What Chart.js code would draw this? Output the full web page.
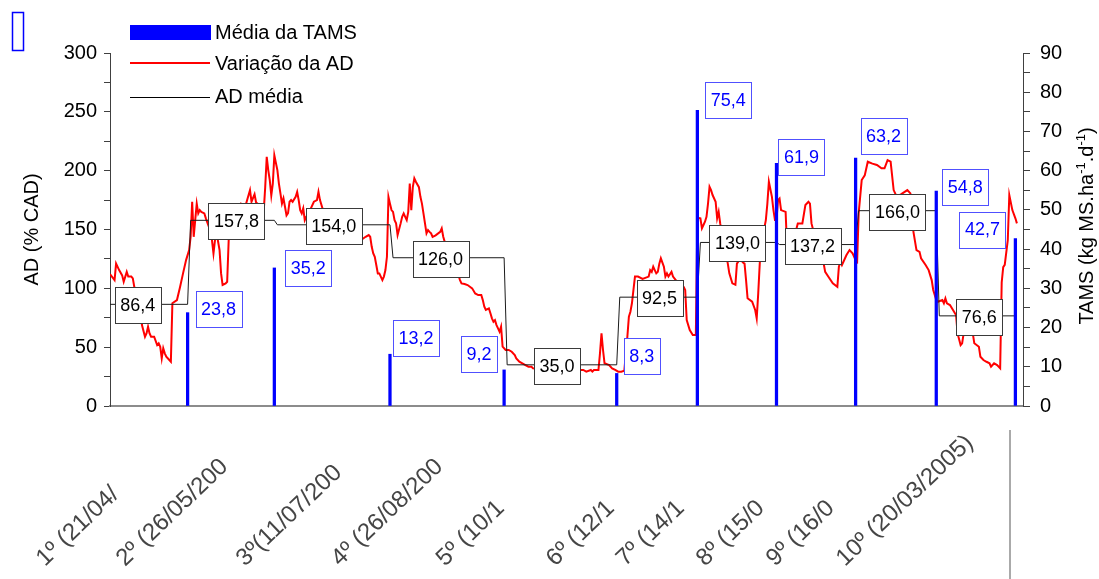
<!DOCTYPE html>
<html lang="pt">
<head>
<meta charset="UTF-8">
<title>Variação da AD e TAMS</title>
<script src="https://cdn.jsdelivr.net/npm/chart.js"></script>
<style>
    body { margin: 0; background: #fff; overflow: hidden; }
    canvas { display: block; }
</style>
</head>
<body>
<canvas id="grafico" width="1099" height="579"></canvas>
<script>
// Fim de cada período de pastejo (nº da leitura)
const fimPeriodo = [51, 108, 184, 259, 333, 386, 438, 490, 543, 595];
// Taxa de acúmulo de matéria seca média (kg MS/ha/d)
const tamsMedia = [23.8, 35.2, 13.2, 9.2, 8.3, 75.4, 61.9, 63.2, 54.8, 42.7];
// Altura do dossel média por período (% CAD)
const adMedia = [86.4, 157.8, 154.0, 126.0, 35.0, 92.5, 139.0, 137.2, 166.0, 76.6];
// Rótulos dos períodos (cortados como na figura)
const rotulosPeriodo = ['1º (21/04/', '2º (26/05/200', '3º(11/07/200', '4º (26/08/200', '5º (10/1',
    '6º (12/1', '7º (14/1', '8º (15/0', '9º (16/0', '10º (20/03/2005)'];

// Variação diária da AD
const leituraAD = [0, 3, 4, 6, 8, 9, 11, 12, 14, 15, 16, 18, 19, 20, 21, 23, 24, 25, 26, 27, 29, 31, 32, 33, 34, 35, 36, 37, 39, 40,
    41, 44, 46, 48, 50, 52, 53, 54, 55, 56, 57, 58, 59, 60, 62, 63, 65, 66, 67, 68, 69, 70, 71, 72, 73, 74, 76, 77, 78, 80,
    83, 86, 89, 92, 93, 95, 96, 99, 101, 102, 103, 104, 105, 106, 107, 108, 110, 111, 112, 113, 114, 115, 116, 117, 118, 119, 120, 122, 123, 124,
    125, 126, 127, 128, 129, 130, 132, 134, 136, 137, 138, 141, 145, 148, 151, 154, 158, 161, 163, 164, 165, 168, 170, 171, 172, 173, 174, 175, 176, 177,
    179, 180, 181, 182, 183, 184, 185, 186, 187, 188, 189, 191, 192, 193, 194, 195, 196, 197, 198, 199, 200, 201, 203, 204, 205, 206, 207, 208, 209, 210,
    211, 212, 214, 217, 218, 219, 221, 224, 227, 229, 230, 231, 233, 235, 238, 240, 242, 244, 245, 246, 247, 249, 250, 251, 252, 253, 254, 255, 256, 257,
    258, 260, 262, 264, 266, 267, 269, 271, 273, 275, 277, 278, 283, 288, 293, 299, 304, 309, 311, 313, 316, 317, 318, 320, 321, 322, 323, 324, 325, 328,
    330, 332, 334, 336, 338, 340, 341, 342, 343, 344, 345, 347, 350, 354, 355, 356, 357, 358, 359, 360, 361, 362, 364, 365, 366, 367, 369, 370, 373, 377,
    378, 379, 381, 383, 385, 386, 388, 389, 390, 391, 392, 393, 394, 395, 396, 398, 399, 400, 401, 403, 405, 406, 407, 409, 411, 412, 414, 416, 417, 418,
    419, 422, 424, 425, 426, 427, 428, 431, 432, 433, 435, 436, 437, 438, 439, 440, 441, 444, 445, 446, 449, 452, 455, 457, 459, 460, 461, 465, 469, 470,
    472, 475, 478, 479, 480, 481, 482, 484, 486, 488, 490, 491, 492, 494, 496, 498, 501, 504, 507, 509, 511, 513, 515, 517, 520, 524, 526, 528, 530, 532,
    533, 536, 538, 540, 541, 543, 544, 547, 548, 549, 550, 552, 554, 556, 557, 559, 560, 561, 564, 567, 568, 571, 572, 574, 576, 578, 579, 581, 583, 585,
    586, 587, 588, 590, 591, 593, 595, 596];
const valorAD = [112, 107, 121, 115.5, 111, 105.6, 114, 110, 110, 108.5, 101, 98.6, 90, 78, 68.8, 58.9, 61.7, 67.4, 61.7, 58.9, 58.9, 51.8, 53.3, 50.4, 40.5, 49, 44.8, 41.9, 39.1, 37.6,
    87.3, 90, 101, 112.7, 124, 132.5, 143.8, 173.6, 143.8, 158, 172, 163.7, 166.5, 165, 163.7, 159.5, 152.3, 155.2, 141, 129.7, 141, 149.5, 140, 132.5, 112.7, 102.8, 104.2, 105.6, 141, 158,
    165, 172, 170, 183.5, 173.6, 180, 173, 170, 165, 186, 211.8, 200.5, 192, 179, 189, 213, 200.5, 189, 180.7, 172, 176.4, 169.3, 162, 164, 173.6, 175, 173.6, 177.8, 182, 175,
    166.5, 163.7, 168, 158, 160.8, 162.3, 168, 173.6, 175, 182, 175, 162, 155, 160, 152, 148, 150, 146, 141, 143.8, 141, 143.8, 145.3, 143.8, 135.3, 129.7, 126.8, 119.8, 112.7, 112.7,
    107, 110, 115.5, 126.8, 177.8, 172, 166.5, 165, 158, 155.2, 145.3, 155.2, 160.8, 163.7, 160.8, 158, 165, 189, 166.5, 186, 193.4, 190.6, 186, 177.8, 172, 163.7, 155.2, 146.7, 149.5, 148,
    146.7, 143.8, 145, 148, 151, 143.8, 135, 125, 116, 111.3, 107, 104.2, 103.7, 102.8, 100, 95.7, 94.3, 94.3, 90, 84.4, 81.6, 83, 78.8, 74.5, 71.6, 73, 68.8, 66, 63.1, 67.4,
    50.4, 47.6, 47.6, 46.1, 43.3, 40.5, 37.6, 36.3, 34.8, 33.4, 33.4, 32, 31.5, 31, 30, 31, 30.5, 30.6, 30.6, 29.2, 30.6, 29.2, 30.6, 30.6, 30.6, 44.8, 61.7, 47.6, 36.3, 34.8,
    32, 30.6, 29.2, 29.2, 30, 58.9, 75.9, 80.1, 87.3, 98.6, 110, 110, 108, 110, 115.5, 114, 118.4, 115.5, 112.7, 114, 121, 125.5, 118.4, 110, 112.7, 110, 114, 110, 105, 101.3,
    98.6, 73, 64.6, 60.3, 60.3, 160, 159.5, 151, 153.8, 156.6, 160.8, 172, 186.3, 183.5, 179.3, 173.6, 159.5, 165, 155.2, 140, 128, 121, 112.7, 104.2, 103, 121, 125, 122, 121, 107,
    91.5, 88.6, 81.6, 74.5, 95.7, 121, 138, 158, 172, 190.6, 177.8, 166.5, 158, 158, 175, 176.4, 166.5, 165, 132.5, 129.7, 140, 155.2, 155.2, 170.8, 173.6, 172, 155.2, 135, 121, 114,
    110, 104.2, 101.3, 118.4, 122.6, 119.8, 122.6, 128.3, 132.5, 129.7, 124, 122.6, 163.7, 192, 196, 207.6, 206, 204.8, 202, 202, 209, 207.6, 183.5, 178, 180, 183.5, 180.7, 148, 132.5, 131,
    125.5, 119.8, 115.5, 107, 98.6, 90, 88.6, 90, 87.3, 91.5, 87.3, 85.8, 81.6, 77.3, 61.7, 51.8, 53.3, 61.7, 62, 61.7, 53.3, 50.4, 41.9, 39.1, 37.6, 36.3, 33.4, 36.3, 34.8, 32,
    105, 118, 120, 141, 179.3, 166.5, 159.5, 155.2];

const fonte = 'Liberation Sans, Arial, sans-serif';
const corTams = '#0000ff';

// degraus da AD média: cada período começa logo após o fim do anterior
const degraus = [];
adMedia.forEach(function (v, k) {
    const ini = k === 0 ? 0 : fimPeriodo[k - 1] + 2;
    degraus.push({ x: ini, y: v }, { x: fimPeriodo[k], y: v });
});

// deslocamentos manuais das caixas (px), como arrumadas na figura original
const desvioCaixaAD = [-11, 4, 0, -8, -5, 1, -1, -5, 0, 2];
const desvioCaixaTams = [[31, -4], [34, 0], [26, -16], [-25, -16], [25, -17], [31, -10], [25, -6], [28, -22], [29, -4], [-33, -9]];
const inicioRotuloX = [45, 125, 245, 340, 445, 555, 625, 705, 775, 845];

function virgula(v) {
    return v.toFixed(1).replace('.', ',');
}

function caixa(ctx, cx, cy, txt, corTexto, corBorda) {
    const w = Math.round(ctx.measureText(txt).width + 11);
    const h = 36;
    const l = Math.round(cx - w / 2) + 0.5;
    const t = Math.round(cy - h / 2) + 0.5;
    ctx.fillStyle = '#fff';
    ctx.fillRect(l, t, w, h);
    ctx.strokeStyle = corBorda;
    ctx.lineWidth = 1;
    ctx.strokeRect(l, t, w, h);
    ctx.fillStyle = corTexto;
    ctx.fillText(txt, cx, cy + 1);
}

const anotacoes = {
    id: 'anotacoes',
    afterDatasetsDraw(chart) {
        const ctx = chart.ctx;
        const x = chart.scales.x, y = chart.scales.y, y2 = chart.scales.y2;
        ctx.save();
        ctx.font = '18px ' + fonte;
        ctx.textAlign = 'center';
        ctx.textBaseline = 'middle';

        // caixas da AD média
        adMedia.forEach(function (v, k) {
            const ini = k === 0 ? 0 : fimPeriodo[k - 1] + 2;
            const cx = (x.getPixelForValue(ini) + x.getPixelForValue(fimPeriodo[k])) / 2 + desvioCaixaAD[k];
            caixa(ctx, cx, y.getPixelForValue(v) + 1, virgula(v), '#000', '#3a3a3a');
        });

        // caixas da TAMS
        tamsMedia.forEach(function (v, k) {
            const cx = x.getPixelForValue(fimPeriodo[k]) + desvioCaixaTams[k][0];
            const cy = y2.getPixelForValue(v) + desvioCaixaTams[k][1];
            caixa(ctx, cx, cy, virgula(v), corTams, '#5050ff');
        });

        // legenda
        const ds = chart.data.datasets;
        ctx.font = '20px ' + fonte;
        ctx.textAlign = 'left';
        ctx.fillStyle = corTams;
        ctx.fillRect(130, 25, 81, 15);
        ctx.strokeStyle = '#ff0000';
        ctx.lineWidth = 2;
        ctx.beginPath(); ctx.moveTo(130, 63); ctx.lineTo(210, 63); ctx.stroke();
        ctx.strokeStyle = '#000';
        ctx.lineWidth = 1;
        ctx.beginPath(); ctx.moveTo(130, 97.5); ctx.lineTo(210, 97.5); ctx.stroke();
        ctx.fillStyle = '#000';
        ctx.fillText(ds[0].label, 215, 33);
        ctx.fillText(ds[1].label, 215, 64);
        ctx.fillText(ds[2].label, 215, 97);

        // caixinha vazia no canto
        ctx.strokeStyle = corTams;
        ctx.lineWidth = 1.5;
        ctx.strokeRect(12.5, 12.5, 11, 38);

        // título do eixo direito com sobrescritos
        const partes = [['TAMS (kg MS.ha', false], ['-1', true], ['.d', false], ['-1', true], [')', false]];
        let total = 0;
        partes.forEach(function (p) {
            ctx.font = (p[1] ? '13px ' : '20px ') + fonte;
            total += ctx.measureText(p[0]).width;
        });
        ctx.save();
        ctx.translate(1093, 226);
        ctx.rotate(-Math.PI / 2);
        ctx.textBaseline = 'alphabetic';
        ctx.fillStyle = '#000';
        let px = -total / 2;
        partes.forEach(function (p) {
            ctx.font = (p[1] ? '13px ' : '20px ') + fonte;
            ctx.fillText(p[0], px, p[1] ? -8 : 0);
            px += ctx.measureText(p[0]).width;
        });
        ctx.restore();

        // rótulos dos períodos
        ctx.font = '24px ' + fonte;
        ctx.fillStyle = '#454545';
        ctx.textBaseline = 'alphabetic';
        rotulosPeriodo.forEach(function (r, k) {
            ctx.save();
            ctx.translate(inicioRotuloX[k], 567);
            ctx.rotate(-0.76);
            ctx.fillText(r, 0, 0);
            ctx.restore();
        });
        ctx.strokeStyle = '#aaa';
        ctx.lineWidth = 2;
        ctx.beginPath(); ctx.moveTo(1010, 430); ctx.lineTo(1010, 579); ctx.stroke();

        ctx.restore();
    }
};

new Chart(document.getElementById('grafico'), {
    data: {
        datasets: [{
            type: 'bar',
            label: 'Média da TAMS',
            data: tamsMedia.map(function (v, k) { return { x: fimPeriodo[k], y: v }; }),
            yAxisID: 'y2',
            backgroundColor: corTams,
            barThickness: 2.6,
            order: 0
        }, {
            type: 'line',
            label: 'Variação da AD',
            data: leituraAD.map(function (l, i) { return { x: l, y: valorAD[i] }; }),
            yAxisID: 'y',
            borderColor: '#ff0000',
            borderWidth: 2,
            pointRadius: 0,
            tension: 0,
            order: 2
        }, {
            type: 'line',
            label: 'AD média',
            data: degraus,
            yAxisID: 'y',
            borderColor: '#1a1a1a',
            borderWidth: 1,
            pointRadius: 0,
            order: 1
        }]
    },
    options: {
        responsive: false,
        animation: false,
        layout: { padding: { top: 53, left: 0, right: 0, bottom: 0 } },
        plugins: { legend: { display: false }, tooltip: { enabled: false } },
        scales: {
            x: {
                type: 'linear', min: 0, max: 600, offset: false,
                grid: { display: false },
                border: { display: true, color: '#8c8c8c', width: 2 },
                ticks: { display: false },
                afterFit: function (s) { s.height = 173; }
            },
            y: {
                position: 'left', min: 0, max: 300,
                ticks: {
                    stepSize: 25, autoSkip: false, padding: 7, color: '#000',
                    font: { family: fonte, size: 20 },
                    callback: function (v) { return v % 50 === 0 ? v : ''; }
                },
                grid: { drawOnChartArea: false, tickLength: 6, color: '#404040' },
                border: { color: '#404040' },
                title: { display: true, text: 'AD (% CAD)', color: '#000', font: { family: fonte, size: 20 }, padding: { top: 20, bottom: 0 } },
                afterFit: function (s) { s.width = 110; }
            },
            y2: {
                position: 'right', min: 0, max: 90,
                ticks: {
                    stepSize: 5, autoSkip: false, padding: 10, color: '#000',
                    font: { family: fonte, size: 20 },
                    callback: function (v) { return v % 10 === 0 ? v : ''; }
                },
                grid: { drawOnChartArea: false, tickLength: 7, color: '#404040' },
                border: { color: '#404040' },
                afterFit: function (s) { s.width = 76; }
            }
        }
    },
    plugins: [anotacoes]
});
</script>
</body>
</html>
